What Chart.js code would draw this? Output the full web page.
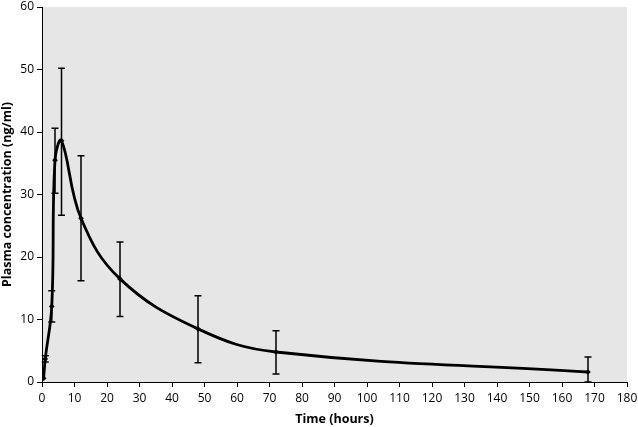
<!DOCTYPE html>
<html>
<head>
<meta charset="utf-8">
<script src="https://cdn.jsdelivr.net/npm/chart.js@4/dist/chart.umd.min.js"></script>
<style>
  html, body { margin: 0; padding: 0; background: #fff; }
  #wrap { width: 638px; height: 427px; position: relative; }
</style>
</head>
<body>
<div id="wrap"><canvas id="pkChart"></canvas></div>
<script>
// ── Data ──
const timeHours = [0.5, 1, 3, 4, 6, 12, 24, 48, 72, 168];
const meanConc = [0.6, 3.7, 12.1, 35.5, 38.6, 26.2, 16.5, 8.5, 4.8, 1.6];
const errUpper = [0.6, 4.2, 14.6, 40.6, 50.2, 36.2, 22.4, 13.8, 8.2, 4.0];
const errLower = [0.6, 3.2, 9.6, 30.2, 26.7, 16.2, 10.5, 3.1, 1.3, 0];

const FONT = "'Open Sans', 'Liberation Sans', sans-serif";

// grey plot background
const plotBg = {
  id: "plotBg",
  beforeDraw(chart) {
    const { ctx, chartArea: a } = chart;
    ctx.save();
    ctx.fillStyle = "#e6e6e6";
    ctx.fillRect(a.left, a.top, a.right - a.left, a.bottom - a.top);
    ctx.restore();
  },
};

// vertical error bars with caps
const errorBars = {
  id: "errorBars",
  afterDatasetsDraw(chart) {
    const { ctx, scales } = chart;
    ctx.save();
    ctx.strokeStyle = "#000";
    ctx.lineWidth = 1.5;
    timeHours.forEach((t, i) => {
      if (errUpper[i] === errLower[i]) return;
      const x = scales.x.getPixelForValue(t);
      const yHi = scales.y.getPixelForValue(errUpper[i]);
      const yLo = scales.y.getPixelForValue(errLower[i]);
      ctx.beginPath();
      ctx.moveTo(x, yHi);
      ctx.lineTo(x, yLo);
      ctx.moveTo(x - 3.5, yHi);
      ctx.lineTo(x + 3.5, yHi);
      ctx.moveTo(x - 3.5, yLo);
      ctx.lineTo(x + 3.5, yLo);
      ctx.stroke();
    });
    ctx.restore();
  },
};

new Chart(document.getElementById("pkChart"), {
  type: "line",
  data: {
    datasets: [
      {
        label: "Plasma concentration",
        data: timeHours.map((t, i) => ({ x: t, y: meanConc[i] })),
        borderColor: "#000",
        backgroundColor: "#000",
        borderWidth: 2.8,
        pointStyle: "rectRot",
        pointRadius: 2.8,
        pointBackgroundColor: "#000",
        pointBorderWidth: 0,
        tension: 0.4,
        fill: false,
      },
    ],
  },
  options: {
    responsive: true,
    maintainAspectRatio: false,
    animation: false,
    layout: { padding: { top: 7, right: 11, left: 0, bottom: 0 } },
    plugins: {
      legend: { display: false },
      tooltip: { enabled: false },
    },
    scales: {
      x: {
        type: "linear",
        min: 0,
        max: 180,
        ticks: {
          stepSize: 10,
          color: "#000",
          padding: 4,
          font: { family: FONT, size: 12 },
        },
        grid: {
          drawOnChartArea: false,
          drawTicks: true,
          tickLength: 5,
          color: "#000",
        },
        border: { display: true, color: "#000", width: 1 },
        title: {
          display: true,
          text: "Time (hours)",
          color: "#000",
          padding: { top: 1, bottom: 0 },
          font: { family: FONT, size: 12.5, weight: "bold" },
        },
        afterFit(scale) {
          scale.height = 45;
          scale.paddingLeft = 0;
          scale.paddingRight = 0;
        },
      },
      y: {
        min: 0,
        max: 60,
        ticks: {
          stepSize: 10,
          color: "#000",
          padding: 3,
          font: { family: FONT, size: 12 },
        },
        grid: {
          drawOnChartArea: false,
          drawTicks: true,
          tickLength: 5,
          color: "#000",
        },
        border: { display: true, color: "#000", width: 1 },
        title: {
          display: true,
          text: "Plasma concentration (ng/ml)",
          color: "#000",
          padding: { top: 0, bottom: 2 },
          font: { family: FONT, size: 12.5, weight: "bold" },
        },
        afterFit(scale) {
          scale.width = 42;
          scale.paddingTop = 0;
          scale.paddingBottom = 0;
        },
      },
    },
  },
  plugins: [plotBg, errorBars],
});
</script>
</body>
</html>
